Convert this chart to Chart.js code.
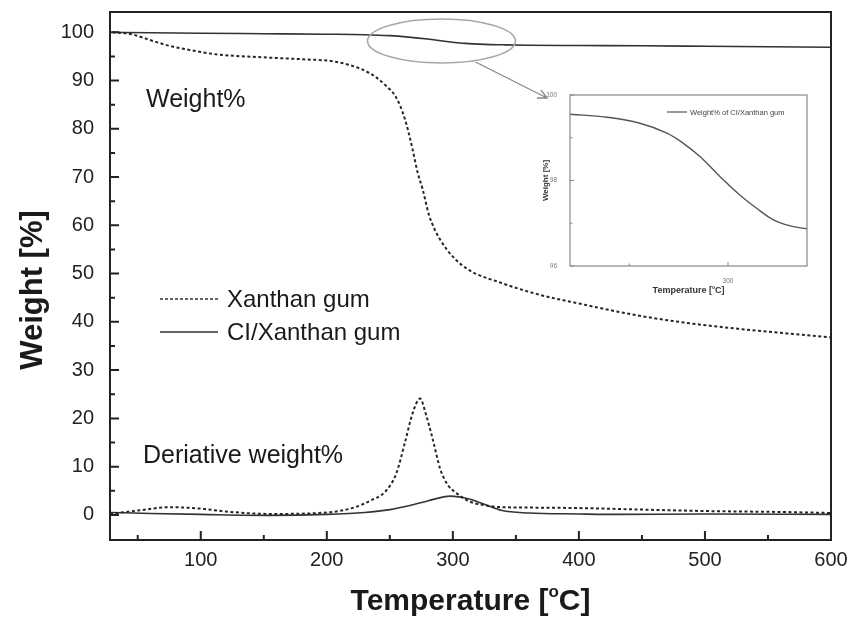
<!DOCTYPE html>
<html>
<head>
<meta charset="utf-8">
<script src="https://cdn.jsdelivr.net/npm/chart.js@4.4.1/dist/chart.umd.min.js"></script>
<style>
  body { margin: 0; background: #fff; }
  #wrap { position: relative; width: 862px; height: 623px; }
  #main { position: absolute; left: 0; top: 0; }
  #inset { position: absolute; left: 530px; top: 85px; }
</style>
</head>
<body>
<div id="wrap">
  <canvas id="main" width="862" height="623"></canvas>
  <canvas id="inset" width="285" height="215"></canvas>
</div>
<script>
// Weight% curves (TGA)
const xanTemp = [30, 45, 62, 75, 88, 110, 128, 150, 181, 207, 228, 240, 247, 255, 262, 268, 272, 276, 281, 285, 290, 300, 313, 337, 366, 400, 445, 485, 525, 565, 600];
const xanWeight = [100, 99.6, 98.2, 97.2, 96.5, 95.5, 95.1, 94.8, 94.4, 93.9, 92.3, 90.5, 88.9, 86.5, 82, 75.8, 71, 67.5, 62.2, 59.5, 57, 53.5, 50.7, 48.2, 45.8, 43.8, 41.4, 39.8, 38.6, 37.6, 36.8];

const ciTemp = [30, 60, 100, 150, 200, 230, 250, 265, 280, 295, 310, 325, 340, 360, 400, 450, 500, 550, 600];
const ciWeight = [100, 99.9, 99.8, 99.7, 99.6, 99.5, 99.3, 99.0, 98.6, 98.1, 97.7, 97.5, 97.4, 97.3, 97.25, 97.2, 97.1, 97.0, 96.9];

// Derivative weight% curves (DTG)
const xanDTemp = [28, 50, 75, 100, 120, 155, 200, 220, 235, 247, 255, 262, 268, 274, 279, 284, 290, 296, 302, 313, 325, 339, 370, 403, 450, 500, 561, 600];
const xanDeriv = [0.2, 0.9, 1.6, 1.3, 0.7, 0.2, 0.5, 1.4, 3, 5, 8.5, 15, 21, 24.1, 20.5, 15.7, 9.5, 6.2, 4.7, 2.8, 2.0, 1.6, 1.5, 1.4, 1.1, 0.8, 0.6, 0.4];

const ciDTemp = [28, 60, 100, 155, 200, 230, 250, 265, 280, 298, 313, 325, 339, 360, 400, 430, 500, 600];
const ciDeriv = [0.5, 0.3, 0.1, -0.1, 0.1, 0.5, 1.1, 1.9, 2.9, 3.9, 3.3, 2.2, 0.9, 0.4, 0.2, 0.1, 0.2, 0.1];

// Inset: zoom on CI/Xanthan gum weight loss
const insetTemp = [220, 238.6, 255.4, 269, 277.4, 285.8, 296, 306, 314.5, 323, 331.4, 340];
const insetWeight = [99.55, 99.48, 99.34, 99.11, 98.87, 98.56, 98.09, 97.66, 97.35, 97.08, 96.94, 96.87];

// Tick values
const xTicks = [50, 100, 150, 200, 250, 300, 350, 400, 450, 500, 550, 600];
const yTicks = [0, 5, 10, 15, 20, 25, 30, 35, 40, 45, 50, 55, 60, 65, 70, 75, 80, 85, 90, 95, 100];
const insetXTicks = [250, 300];
const insetYTicks = [96, 97, 98, 99, 100];

const FONT = "'Liberation Sans', Arial, sans-serif";

function pts(xs, ys) {
  return xs.map((x, i) => ({ x: x, y: ys[i] }));
}

// frame around the plot + inward ticks
function axesFrame(opt) {
  return {
    id: "axesFrame",
    afterDatasetsDraw(chart) {
      const { ctx, chartArea: a, scales } = chart;
      ctx.save();
      ctx.strokeStyle = opt.color;
      ctx.lineWidth = opt.tickWidth;
      ctx.beginPath();
      opt.xTicks.forEach((v) => {
        const len = v % opt.xMajor === 0 ? opt.major : opt.minor;
        const px = scales.x.getPixelForValue(v);
        ctx.moveTo(px, a.bottom);
        ctx.lineTo(px, a.bottom - len);
      });
      opt.yTicks.forEach((v) => {
        const len = v % opt.yMajor === 0 ? opt.major : opt.minor;
        const py = scales.y.getPixelForValue(v);
        ctx.moveTo(a.left, py);
        ctx.lineTo(a.left + len, py);
      });
      ctx.stroke();
      ctx.lineWidth = opt.width;
      ctx.strokeRect(a.left, a.top, a.right - a.left, a.bottom - a.top);
      ctx.restore();
    },
  };
}

// "Temperature [°C]" with superscript o
function drawTempTitle(ctx, cx, baseline, size) {
  const big = "bold " + size + "px " + FONT;
  const small = "bold " + Math.round(size * 0.55) + "px " + FONT;
  ctx.font = big;
  const w1 = ctx.measureText("Temperature [").width;
  const w3 = ctx.measureText("C]").width;
  ctx.font = small;
  const w2 = ctx.measureText("o").width;
  let x = cx - (w1 + w2 + w3) / 2;
  ctx.textAlign = "left";
  ctx.textBaseline = "alphabetic";
  ctx.font = big;
  ctx.fillText("Temperature [", x, baseline);
  x += w1;
  ctx.font = small;
  ctx.fillText("o", x, baseline - size * 0.42);
  x += w2;
  ctx.font = big;
  ctx.fillText("C]", x, baseline);
}

const mainText = {
  id: "mainText",
  afterDraw(chart) {
    const { ctx, chartArea: a, scales: { x, y } } = chart;
    ctx.save();
    ctx.fillStyle = "#1a1a1a";

    // axis titles
    drawTempTitle(ctx, (a.left + a.right) / 2, 610, 30);
    ctx.save();
    ctx.translate(33, 290);
    ctx.rotate(-Math.PI / 2);
    ctx.textAlign = "center";
    ctx.textBaseline = "middle";
    ctx.font = "bold 31px " + FONT;
    ctx.fillText("Weight [%]", 0, 0);
    ctx.restore();

    // labels inside the plot
    ctx.textAlign = "left";
    ctx.textBaseline = "alphabetic";
    ctx.font = "25px " + FONT;
    ctx.fillText("Weight%", 146, 107);
    ctx.fillText("Deriative weight%", 143, 463);

    // legend
    ctx.font = "24px " + FONT;
    ctx.textBaseline = "middle";
    ctx.strokeStyle = "#333";
    ctx.lineWidth = 1.5;
    ctx.setLineDash([3, 2]);
    ctx.beginPath();
    ctx.moveTo(160, 299);
    ctx.lineTo(218, 299);
    ctx.stroke();
    ctx.setLineDash([]);
    ctx.beginPath();
    ctx.moveTo(160, 332);
    ctx.lineTo(218, 332);
    ctx.stroke();
    ctx.fillText("Xanthan gum", 227, 300);
    ctx.fillText("CI/Xanthan gum", 227, 333);

    // ellipse + arrow pointing to the inset
    const ex = x.getPixelForValue(291);
    const ey = y.getPixelForValue(98.2);
    ctx.strokeStyle = "#a8a8a8";
    ctx.lineWidth = 1.6;
    ctx.beginPath();
    ctx.ellipse(ex, ey, 74, 22, 0, 0, Math.PI * 2);
    ctx.stroke();
    ctx.strokeStyle = "#888";
    ctx.lineWidth = 1.3;
    ctx.beginPath();
    ctx.moveTo(ex + 34, ey + 21);
    ctx.lineTo(547, 98);
    ctx.moveTo(537, 98);
    ctx.lineTo(547, 98);
    ctx.lineTo(541, 90);
    ctx.stroke();
    ctx.restore();
  },
};

new Chart(document.getElementById("main"), {
  type: "line",
  data: {
    datasets: [
      { label: "Xanthan gum", data: pts(xanTemp, xanWeight), borderColor: "#262626", borderWidth: 2, borderDash: [3, 2.5] },
      { label: "CI/Xanthan gum", data: pts(ciTemp, ciWeight), borderColor: "#333", borderWidth: 1.6 },
      { label: "Xanthan gum DTG", data: pts(xanDTemp, xanDeriv), borderColor: "#262626", borderWidth: 2, borderDash: [3, 2.5] },
      { label: "CI/Xanthan gum DTG", data: pts(ciDTemp, ciDeriv), borderColor: "#333", borderWidth: 1.6 },
    ],
  },
  options: {
    responsive: false,
    animation: false,
    layout: { padding: { top: 12, right: 31, left: 0, bottom: 0 } },
    elements: { point: { radius: 0 }, line: { cubicInterpolationMode: "monotone" } },
    plugins: { legend: { display: false }, tooltip: { enabled: false } },
    scales: {
      x: {
        type: "linear",
        min: 28,
        max: 600,
        grid: { display: false },
        border: { display: false },
        afterBuildTicks: (scale) => { scale.ticks = xTicks.map((v) => ({ value: v })); },
        afterFit: (scale) => { scale.height = 83; scale.paddingLeft = 0; scale.paddingRight = 0; },
        ticks: {
          autoSkip: false,
          maxRotation: 0,
          padding: 0,
          color: "#222",
          font: { family: FONT, size: 20 },
          callback: (v) => (v % 100 === 0 ? v : ""),
        },
      },
      y: {
        min: -5.2,
        max: 104.2,
        grid: { display: false },
        border: { display: false },
        afterBuildTicks: (scale) => { scale.ticks = yTicks.map((v) => ({ value: v })); },
        afterFit: (scale) => { scale.width = 110; scale.paddingTop = 0; scale.paddingBottom = 0; },
        ticks: {
          autoSkip: false,
          padding: 8,
          color: "#222",
          font: { family: FONT, size: 20 },
          callback: (v) => (v % 10 === 0 ? v : ""),
        },
      },
    },
  },
  plugins: [axesFrame({ color: "#222", width: 2, tickWidth: 2, major: 9, minor: 5, xMajor: 100, yMajor: 10, xTicks: xTicks, yTicks: yTicks }), mainText],
});

const insetText = {
  id: "insetText",
  afterDraw(chart) {
    const { ctx, chartArea: a } = chart;
    ctx.save();
    ctx.fillStyle = "#333";
    drawTempTitle(ctx, (a.left + a.right) / 2, 208, 9);
    ctx.save();
    ctx.translate(16, (a.top + a.bottom) / 2);
    ctx.rotate(-Math.PI / 2);
    ctx.textAlign = "center";
    ctx.textBaseline = "middle";
    ctx.font = "bold 8px " + FONT;
    ctx.fillText("Weight [%]", 0, 0);
    ctx.restore();

    // inset legend
    ctx.strokeStyle = "#555";
    ctx.lineWidth = 1.2;
    ctx.beginPath();
    ctx.moveTo(137, 27);
    ctx.lineTo(157, 27);
    ctx.stroke();
    ctx.fillStyle = "#444";
    ctx.font = "7.5px " + FONT;
    ctx.textAlign = "left";
    ctx.textBaseline = "middle";
    ctx.fillText("Weight% of CI/Xanthan gum", 160, 27.5);
    ctx.restore();
  },
};

new Chart(document.getElementById("inset"), {
  type: "line",
  data: {
    datasets: [
      { label: "Weight% of CI/Xanthan gum", data: pts(insetTemp, insetWeight), borderColor: "#555", borderWidth: 1.4, tension: 0.4 },
    ],
  },
  options: {
    responsive: false,
    animation: false,
    layout: { padding: { top: 10, right: 8, left: 0, bottom: 0 } },
    elements: { point: { radius: 0 } },
    plugins: { legend: { display: false }, tooltip: { enabled: false } },
    scales: {
      x: {
        type: "linear",
        min: 220,
        max: 340,
        grid: { display: false },
        border: { display: false },
        afterBuildTicks: (scale) => { scale.ticks = insetXTicks.map((v) => ({ value: v })); },
        afterFit: (scale) => { scale.height = 34; scale.paddingLeft = 0; scale.paddingRight = 0; },
        ticks: {
          autoSkip: false,
          maxRotation: 0,
          padding: 3,
          color: "#777",
          font: { family: FONT, size: 6.5 },
          callback: (v) => (v % 100 === 0 ? v : ""),
        },
      },
      y: {
        min: 96,
        max: 100,
        grid: { display: false },
        border: { display: false },
        afterBuildTicks: (scale) => { scale.ticks = insetYTicks.map((v) => ({ value: v })); },
        afterFit: (scale) => { scale.width = 40; scale.paddingTop = 0; scale.paddingBottom = 0; },
        ticks: {
          autoSkip: false,
          padding: 5,
          color: "#777",
          font: { family: FONT, size: 6.5 },
          callback: (v) => (v % 2 === 0 ? v : ""),
        },
      },
    },
  },
  plugins: [axesFrame({ color: "#888", width: 1.2, tickWidth: 1, major: 4, minor: 2.5, xMajor: 100, yMajor: 2, xTicks: insetXTicks, yTicks: insetYTicks }), insetText],
});
</script>
</body>
</html>
